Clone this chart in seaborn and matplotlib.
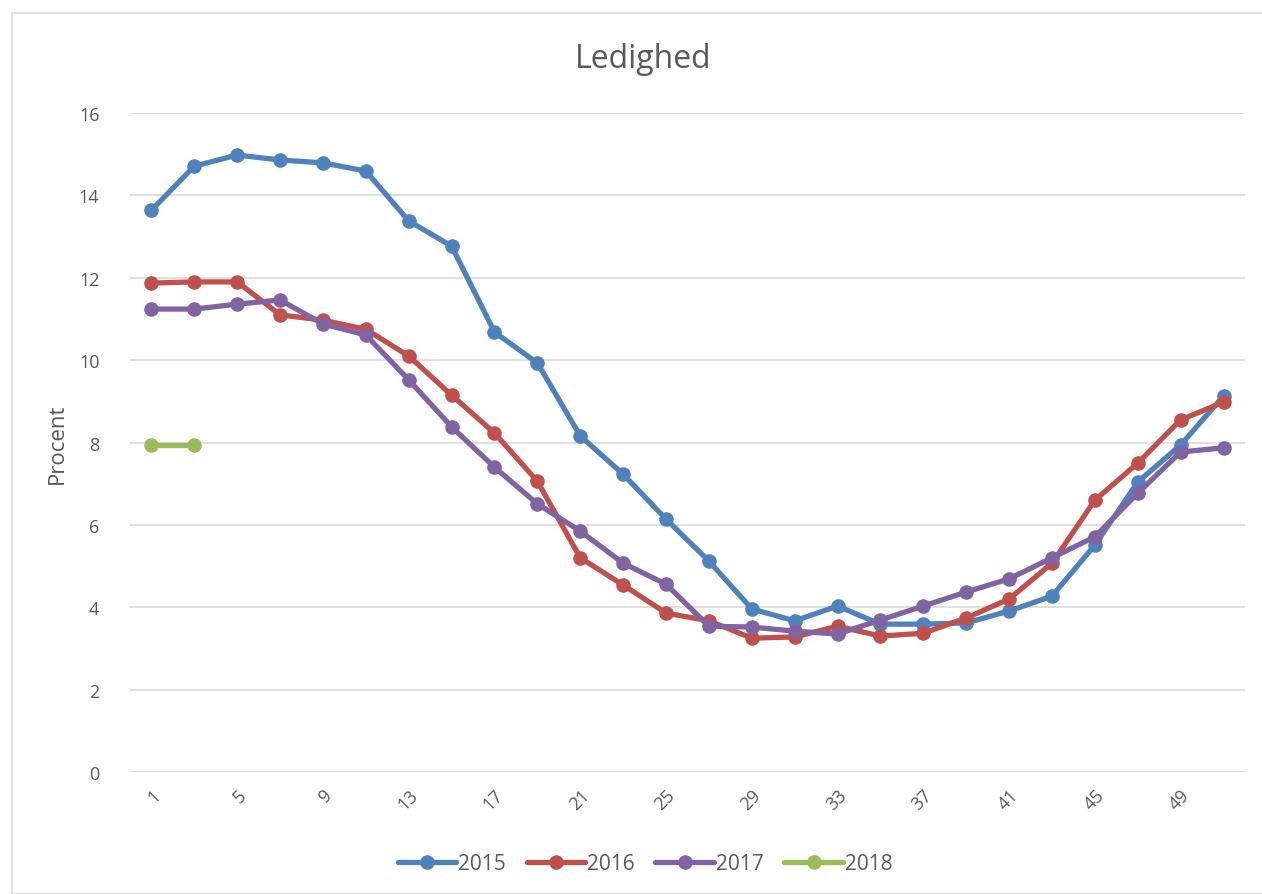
import numpy as np
import pandas as pd
import matplotlib
matplotlib.use("Agg")
import matplotlib.pyplot as plt
import seaborn as sns

# weeks (every second week)
weeks = list(range(1, 52, 2))

y2015 = [13.64, 14.71, 14.98, 14.86, 14.79, 14.59, 13.38, 12.77, 10.68, 9.93,
         8.16, 7.23, 6.14, 5.12, 3.96, 3.67, 4.03, 3.59, 3.59, 3.62,
         3.91, 4.27, 5.51, 7.04, 7.94, 9.13]
y2016 = [11.87, 11.90, 11.90, 11.10, 10.97, 10.75, 10.10, 9.15, 8.23, 7.06,
         5.20, 4.54, 3.86, 3.67, 3.25, 3.28, 3.54, 3.30, 3.37, 3.74,
         4.20, 5.07, 6.60, 7.50, 8.55, 8.98]
y2017 = [11.24, 11.24, 11.36, 11.46, 10.88, 10.61, 9.52, 8.38, 7.40, 6.51,
         5.85, 5.07, 4.56, 3.54, 3.52, 3.42, 3.35, 3.69, 4.03, 4.37,
         4.69, 5.20, 5.71, 6.77, 7.77, 7.87]
y2018 = [7.94, 7.94]

years = ["2015", "2016", "2017", "2018"]
colors = {"2015": "#4F81BD", "2016": "#C0504D", "2017": "#8064A2", "2018": "#9BBB59"}

frames = []
for yr, vals in zip(years, [y2015, y2016, y2017, y2018]):
    frames.append(pd.DataFrame({"uge": weeks[:len(vals)], "procent": vals, "aar": yr}))
df = pd.concat(frames, ignore_index=True)

sns.set_style("white")
plt.rcParams['font.family'] = ['Open Sans', 'DejaVu Sans']
text_col = "#595959"

fig = plt.figure(figsize=(12.62, 8.95), dpi=100)
ax = fig.add_axes([0.103, 0.1363, 0.8835, 0.7363])

# outer chart border
fig.patches.append(plt.Rectangle((12 / 1262, 0), 1.0, 1 - 14 / 895, transform=fig.transFigure,
                                 fill=False, edgecolor="#D9D9D9", linewidth=1.2))

sns.lineplot(data=df, x="uge", y="procent", hue="aar", palette=colors, ax=ax,
             marker="o", markersize=10.5, markeredgewidth=0, linewidth=3.8,
             legend=False, estimator=None, sort=False)

ax.set_xlim(0, 52)
ax.set_ylim(0, 16)
ax.set_yticks(np.arange(0, 17, 2))
ax.set_xticks(list(range(1, 52, 4)))
ax.set_xticklabels([str(w) for w in range(1, 52, 4)], rotation=45, ha="right",
                   va="top", rotation_mode="anchor")
ax.yaxis.grid(True, color="#D9D9D9", linewidth=1.2)
ax.xaxis.grid(False)
for s in ax.spines.values():
    s.set_visible(False)
ax.axhline(0, color="#D9D9D9", linewidth=1.2, zorder=0)
ax.tick_params(axis="both", length=0, labelsize=13, colors=text_col)
ax.tick_params(axis="y", pad=22)
ax.tick_params(axis="x", pad=10)
ax.set_xlabel("")
ax.set_ylabel("Procent", fontsize=16, color=text_col, labelpad=8)
fig.text(643 / 1262, 1 - 60 / 895, "Ledighed", fontsize=23, color=text_col,
         ha="center", va="center")

handles = [plt.Line2D([], [], color=colors[yr], marker="o", markersize=10.5,
                      markeredgewidth=0, linewidth=3.8) for yr in years]
fig.legend(handles, years, loc="center", bbox_to_anchor=(645 / 1262, 1 - 865 / 895), ncol=4,
           frameon=False, fontsize=15, labelcolor=text_col, handlelength=2.8,
           handletextpad=0.1, columnspacing=1.0)

fig.savefig("out.png", dpi=100)
